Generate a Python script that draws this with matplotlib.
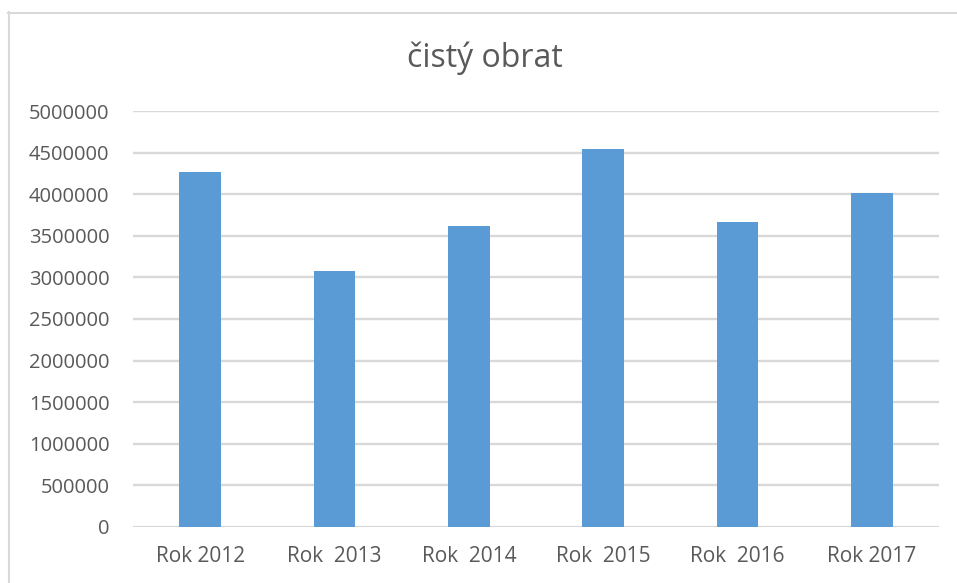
import numpy as np
import matplotlib.pyplot as plt
from matplotlib.lines import Line2D

# data
roky = ["Rok 2012", "Rok  2013", "Rok  2014", "Rok  2015", "Rok  2016", "Rok 2017"]
obrat = [4270000, 3080000, 3620000, 4540000, 3660000, 4020000]
y_ticks = np.arange(0, 5000001, 500000)

seda_text = '#595959'
seda_mrizka = '#d9d9d9'
modra = '#5b9bd5'

plt.rcParams['font.family'] = ['Open Sans', 'DejaVu Sans']

fig = plt.figure(figsize=(9.57, 5.83), dpi=100)
fig.patch.set_facecolor('white')
ax = fig.add_axes([133 / 957, 1 - 527 / 583, (939 - 133) / 957, (527 - 111) / 583])

x = np.arange(len(roky))
ax.bar(x, obrat, width=0.31, color=modra, zorder=3)

ax.set_xlim(-0.5, len(roky) - 0.5)
ax.set_ylim(0, 5000000)
ax.set_yticks(y_ticks)
ax.set_yticklabels([str(v) for v in y_ticks])
ax.set_xticks(x)
ax.set_xticklabels(roky)

ax.grid(axis='y', color=seda_mrizka, lw=1.7, zorder=0)
ax.tick_params(axis='both', length=0, labelcolor=seda_text)
ax.tick_params(axis='y', pad=17, labelsize=14.5)
ax.tick_params(axis='x', pad=14, labelsize=15)
for s in ax.spines.values():
    s.set_visible(False)

fig.text(485 / 957, 1 - 58 / 583, 'čistý obrat', ha='center', va='center',
         fontsize=23, color=seda_text)

# ramecek grafu
fig.add_artist(Line2D([8.5 / 957, 8.5 / 957], [1 - 12 / 583, 0],
                      transform=fig.transFigure, color=seda_mrizka, lw=1.5))
fig.add_artist(Line2D([8 / 957, 1], [1 - 12.5 / 583, 1 - 12.5 / 583],
                      transform=fig.transFigure, color=seda_mrizka, lw=1.5))

plt.savefig('out.png', dpi=100, facecolor='white')
